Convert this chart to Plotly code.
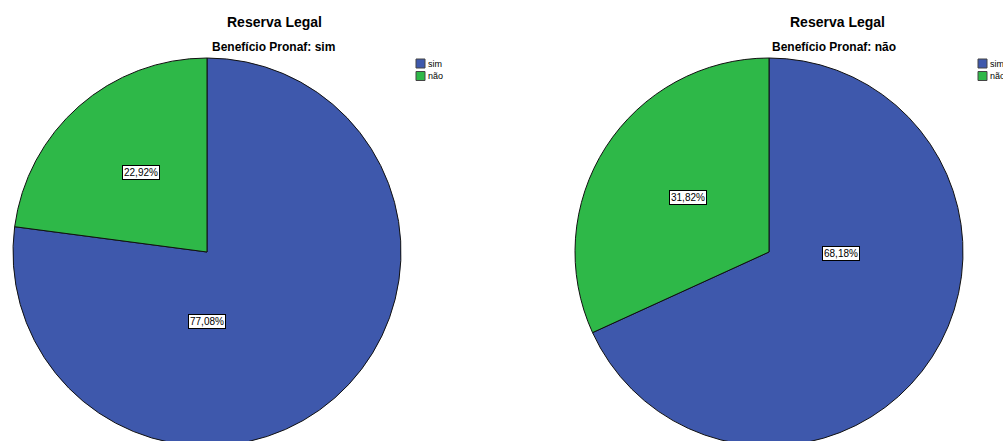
import plotly.graph_objects as go

# Reserva Legal by Pronaf benefit
categories = ["sim", "não"]
pct_pronaf_sim = [77.08, 22.92]
pct_pronaf_nao = [68.18, 31.82]
panel_titles = ["Reserva Legal", "Reserva Legal"]
panel_subtitles = ["Benefício Pronaf: sim", "Benefício Pronaf: não"]

colors = ["#3E58AC", "#2EB848"]

W, H = 1003, 460          # page is 441 tall; pies run slightly past the bottom edge


def px(x):
    return x / W


def py(y):
    return 1 - y / H


# pie geometry in pixels: centre x, centre y, radius
pies = [
    dict(values=pct_pronaf_sim, cx=207, cy=252, r=194, title_x=274.5, sub_x=273.5, leg_x=416),
    dict(values=pct_pronaf_nao, cx=769, cy=252, r=194, title_x=837, sub_x=833.5, leg_x=978),
]
# label box centres, as offsets from pie centre in units of radius
label_offsets = [
    [(0.0, 0.36), (-0.34, -0.41)],
    [(0.37, 0.01), (-0.42, -0.28)],
]

fig = go.Figure()
annotations = []
shapes = []

for i, p in enumerate(pies):
    cx, cy, r = p["cx"], p["cy"], p["r"]
    fig.add_trace(go.Pie(
        labels=categories,
        values=p["values"],
        sort=False,
        direction="clockwise",
        rotation=0,
        textinfo="none",
        hoverinfo="label+percent",
        marker=dict(colors=colors, line=dict(color="#111111", width=1)),
        domain=dict(x=[px(cx - r), px(cx + r)], y=[py(cy + r), py(cy - r)]),
        showlegend=False,
    ))
    for j, v in enumerate(p["values"]):
        dx, dy = label_offsets[i][j]
        annotations.append(dict(
            x=px(cx + dx * r), y=py(cy + dy * r), xref="paper", yref="paper",
            text=f"{v:.2f}%".replace(".", ","), showarrow=False,
            xanchor="center", yanchor="middle",
            font=dict(family="Arial, Liberation Sans", size=10, color="#000000"),
            bgcolor="#FFFFFF", bordercolor="#000000", borderwidth=1, borderpad=1,
        ))
    annotations.append(dict(
        x=px(p["title_x"]), y=py(22), xref="paper", yref="paper",
        text=f"<b>{panel_titles[i]}</b>", showarrow=False,
        xanchor="center", yanchor="middle",
        font=dict(family="Arial, Liberation Sans", size=14, color="#000000"),
    ))
    annotations.append(dict(
        x=px(p["sub_x"]), y=py(47), xref="paper", yref="paper",
        text=f"<b>{panel_subtitles[i]}</b>", showarrow=False,
        xanchor="center", yanchor="middle",
        font=dict(family="Arial, Liberation Sans", size=12, color="#000000"),
    ))
    # legend swatches
    for k, cat in enumerate(categories):
        y0 = 59 + k * 12.5
        lx = p["leg_x"]
        shapes.append(dict(
            type="rect", xref="paper", yref="paper",
            x0=px(lx), x1=px(lx + 9), y0=py(y0 + 9), y1=py(y0),
            fillcolor=colors[k], line=dict(color="#444444", width=1),
        ))
        annotations.append(dict(
            x=px(lx + 10), y=py(y0 + 4.5), xref="paper", yref="paper",
            text=cat, showarrow=False, xanchor="left", yanchor="middle",
            font=dict(family="Arial, Liberation Sans", size=9, color="#000000"),
        ))

fig.update_layout(
    width=W, height=H,
    margin=dict(l=0, r=0, t=0, b=0, autoexpand=False),
    paper_bgcolor="#FFFFFF", plot_bgcolor="#FFFFFF",
    annotations=annotations, shapes=shapes,
    showlegend=False,
)

fig.write_html(
    "out.html",
    post_script="document.body.style.margin='0';document.body.style.overflow='hidden';"
                "document.documentElement.style.overflow='hidden';",
)
